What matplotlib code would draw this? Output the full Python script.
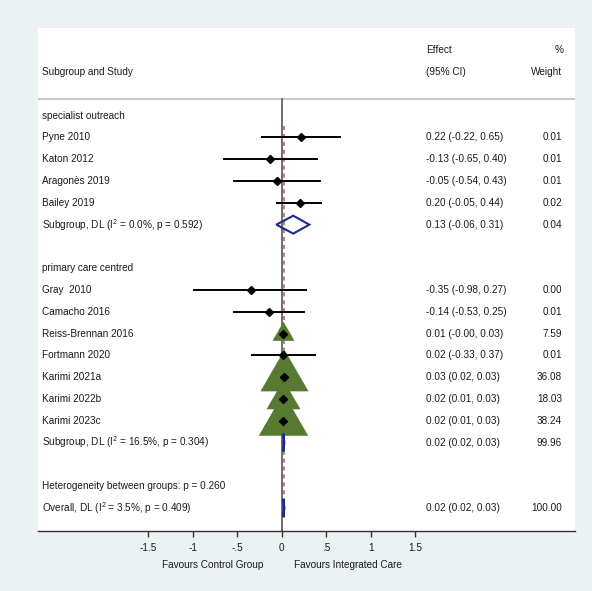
import numpy as np
import matplotlib
matplotlib.use('Agg')
import matplotlib.pyplot as plt
from matplotlib.path import Path
from matplotlib.patches import Polygon

plt.rcParams['font.family'] = ['Liberation Sans', 'DejaVu Sans']
plt.rcParams['mathtext.fontset'] = 'custom'
plt.rcParams['mathtext.rm'] = 'Liberation Sans'
plt.rcParams['mathtext.it'] = 'Liberation Sans:italic'

# study rows: label, effect, lower, upper, weight
studies = ['Pyne 2010', 'Katon 2012', 'Aragonès 2019', 'Bailey 2019',
           'Gray  2010', 'Camacho 2016', 'Reiss-Brennan 2016', 'Fortmann 2020',
           'Karimi 2021a', 'Karimi 2022b', 'Karimi 2023c']
study_rows = [1, 2, 3, 4, 8, 9, 10, 11, 12, 13, 14]
effect = [0.22, -0.13, -0.05, 0.20, -0.35, -0.14, 0.01, 0.02, 0.03, 0.02, 0.02]
lower = [-0.22, -0.65, -0.54, -0.05, -0.98, -0.53, -0.0, -0.33, 0.02, 0.01, 0.01]
upper = [0.65, 0.40, 0.43, 0.44, 0.27, 0.25, 0.03, 0.37, 0.03, 0.03, 0.03]
weight = [0.01, 0.01, 0.01, 0.02, 0.00, 0.01, 7.59, 0.01, 36.08, 18.03, 38.24]

# pooled rows (subgroups + overall)
pooled_labels = ['Subgroup, DL (I$^2$ = 0.0%, p = 0.592)',
                 'Subgroup, DL (I$^2$ = 16.5%, p = 0.304)',
                 'Overall, DL (I$^2$ = 3.5%, p = 0.409)']
pooled_rows = [5, 15, 18]
pooled_effect = [0.13, 0.02, 0.02]
pooled_lower = [-0.06, 0.02, 0.02]
pooled_upper = [0.31, 0.03, 0.03]
pooled_weight = [0.04, 99.96, 100.00]

headings = ['specialist outreach', 'primary care centred',
            'Heterogeneity between groups: p = 0.260']
heading_rows = [0, 7, 17]

ticks = [-1.5, -1, -0.5, 0, 0.5, 1, 1.5]
tick_labels = ['-1.5', '-1', '-.5', '0', '.5', '1', '1.5']

bg = '#eaf2f3'
txt = '#1a1a1a'
green = '#587a30'
navy = '#1f2a85'
fs = 7.2

fig = plt.figure(figsize=(5.92, 5.91), dpi=100, facecolor=bg)
ax = fig.add_axes([38 / 592, 1 - 531 / 591, 537 / 592, 503 / 591])
ax.set_facecolor('white')
ax.set_xlim(-2.735, 3.292)
ax.set_ylim(19.06, -4.025)
for s in ['top', 'left', 'right']:
    ax.spines[s].set_visible(False)
ax.spines['bottom'].set_color('#333333')
ax.spines['bottom'].set_linewidth(1.0)
ax.set_yticks([])
ax.set_xticks(ticks)
ax.set_xticklabels(tick_labels, fontsize=fs, color=txt)
ax.tick_params(axis='x', direction='out', length=4.5, width=1.0, color='#333333', pad=4)

x_lab = -2.687
x_eff = 1.623
x_wt = 3.146

# header
ax.text(x_eff, -3.015, 'Effect', fontsize=fs, color=txt, va='center')
ax.text(x_wt + 0.02, -3.015, '%', fontsize=fs, color=txt, va='center', ha='right')
ax.text(x_lab, -2.006, 'Subgroup and Study', fontsize=fs, color=txt, va='center')
ax.text(x_eff, -2.006, '(95% CI)', fontsize=fs, color=txt, va='center')
ax.text(x_wt, -2.006, 'Weight', fontsize=fs, color=txt, va='center', ha='right')
ax.axhline(-0.766, color='#c4c4c4', lw=1.3)

# null line and overall effect line
ax.plot([0, 0], [-0.766, 19.06], color='#555555', lw=1.2, zorder=2)
ax.plot([pooled_effect[-1] + 0.004] * 2, [0.47, 18.5], color='#c77f7f', lw=1.5,
        linestyle=(0, (2, 1.8)), zorder=2)

for lab, r in zip(headings, heading_rows):
    ax.text(x_lab, r, lab, fontsize=fs, color=txt, va='center')

# weight triangles, centred on the centroid
tri = Path([(-1, -0.577), (1, -0.577), (0, 1.155), (-1, -0.577)])
px_per_sqrtw = 8.0
for r, e, w in zip(study_rows, effect, weight):
    if w <= 0:
        continue
    width_px = px_per_sqrtw * np.sqrt(w)
    ms = width_px / 0.866 * 72 / fig.dpi
    ax.plot(e, r, marker=tri, ms=ms, color=green, mec='none', zorder=3)

for lab, r, e, lo, hi, w in zip(studies, study_rows, effect, lower, upper, weight):
    ax.plot([lo, hi], [r, r], color='black', lw=1.4, zorder=4)
    ax.plot(e, r, marker='D', ms=3.8, color='black', zorder=5)
    ax.text(x_lab, r, lab, fontsize=fs, color=txt, va='center')
    ax.text(x_eff, r, f'{e:.2f} ({lo:.2f}, {hi:.2f})', fontsize=fs, color=txt, va='center')
    ax.text(x_wt, r, f'{w:.2f}', fontsize=fs, color=txt, va='center', ha='right')

for lab, r, e, lo, hi, w in zip(pooled_labels, pooled_rows, pooled_effect,
                                pooled_lower, pooled_upper, pooled_weight):
    h = 0.41
    ax.add_patch(Polygon([(lo, r), (e, r - h), (hi, r), (e, r + h)], closed=True,
                         fill=False, edgecolor=navy, lw=1.5, zorder=5))
    ax.text(x_lab, r, lab, fontsize=fs, color=txt, va='center')
    ax.text(x_eff, r, f'{e:.2f} ({lo:.2f}, {hi:.2f})', fontsize=fs, color=txt, va='center')
    ax.text(x_wt, r, f'{w:.2f}', fontsize=fs, color=txt, va='center', ha='right')

ax.text(-0.777, 20.62, 'Favours Control Group', fontsize=fs, color=txt,
        ha='center', va='center', clip_on=False)
ax.text(0.739, 20.62, 'Favours Integrated Care', fontsize=fs, color=txt,
        ha='center', va='center', clip_on=False)

fig.savefig('out.png', dpi=100, facecolor=bg)
